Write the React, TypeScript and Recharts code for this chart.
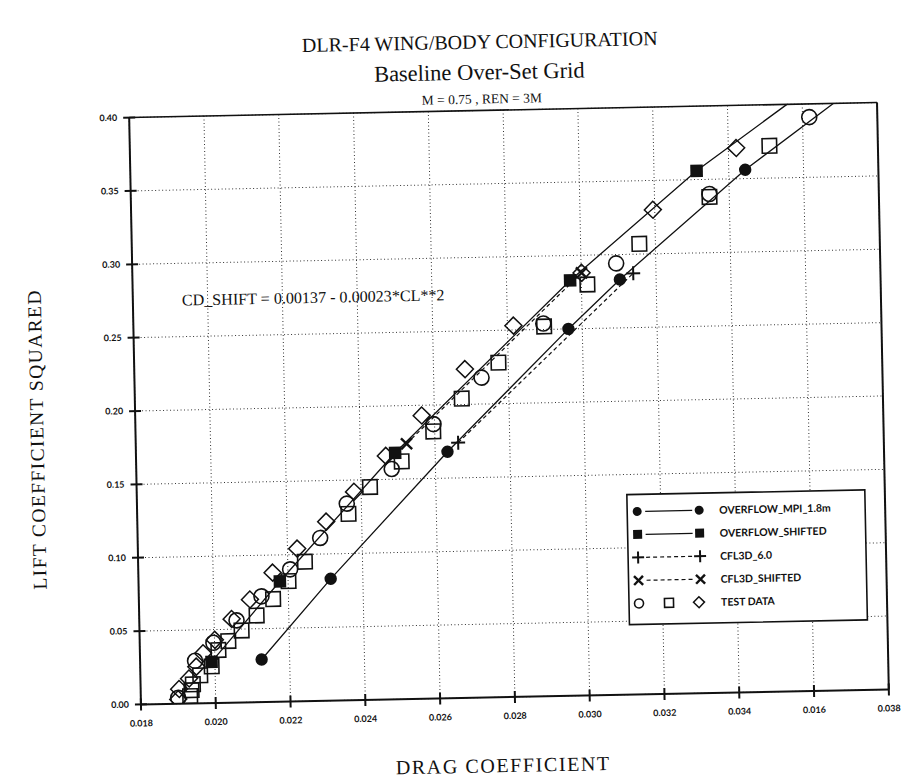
import React from 'react';
import { ScatterChart, Scatter, XAxis, YAxis, CartesianGrid, ReferenceLine } from 'recharts';

// axis ticks (the 0.036 label really reads 0.016 on the original)
const xTicks = [0.018, 0.02, 0.022, 0.024, 0.026, 0.028, 0.03, 0.032, 0.034, 0.036, 0.038];
const xTickLabels = ['0.018', '0.020', '0.022', '0.024', '0.026', '0.028', '0.030', '0.032', '0.034', '0.016', '0.038'];
const yTicks = [0, 0.05, 0.1, 0.15, 0.2, 0.25, 0.3, 0.35, 0.4];
const yTickLabels = ['0.00', '0.05', '0.10', '0.15', '0.20', '0.25', '0.30', '0.35', '0.40'];

// OVERFLOW_MPI_1.8m
const overflowMpi = [
  { cd: 0.02125, cl2: 0.029 }, { cd: 0.02314, cl2: 0.083 }, { cd: 0.02633, cl2: 0.168 },
  { cd: 0.02963, cl2: 0.25 }, { cd: 0.03103, cl2: 0.283 }, { cd: 0.03444, cl2: 0.356 },
];
const overflowMpiLine = [...overflowMpi, { cd: 0.03683, cl2: 0.4 }];

// OVERFLOW_SHIFTED
const overflowShifted = [
  { cd: 0.01991, cl2: 0.028 }, { cd: 0.02178, cl2: 0.082 }, { cd: 0.02493, cl2: 0.168 },
  { cd: 0.0297, cl2: 0.283 }, { cd: 0.03314, cl2: 0.356 },
];
const overflowShiftedLine = [...overflowShifted, { cd: 0.03559, cl2: 0.4 }];

// CFL3D
const cfl3d = [{ cd: 0.02662, cl2: 0.174 }, { cd: 0.03139, cl2: 0.287 }];
const cfl3dShifted = [{ cd: 0.02524, cl2: 0.174 }, { cd: 0.03001, cl2: 0.288 }];

// test data
const testCircles = [
  { cd: 0.019, cl2: 0.004 }, { cd: 0.01947, cl2: 0.029 }, { cd: 0.01997, cl2: 0.041 },
  { cd: 0.0206, cl2: 0.056 }, { cd: 0.02128, cl2: 0.072 }, { cd: 0.02206, cl2: 0.09 },
  { cd: 0.02288, cl2: 0.111 }, { cd: 0.02361, cl2: 0.134 }, { cd: 0.02483, cl2: 0.157 },
  { cd: 0.02597, cl2: 0.187 }, { cd: 0.02728, cl2: 0.218 }, { cd: 0.02896, cl2: 0.254 },
  { cd: 0.03094, cl2: 0.294 }, { cd: 0.03347, cl2: 0.34 }, { cd: 0.03618, cl2: 0.391 },
];
const testSquares = [
  { cd: 0.01932, cl2: 0.005 }, { cd: 0.01936, cl2: 0.009 }, { cd: 0.0194, cl2: 0.013 },
  { cd: 0.0196, cl2: 0.019 }, { cd: 0.01991, cl2: 0.025 }, { cd: 0.0201, cl2: 0.036 },
  { cd: 0.02037, cl2: 0.042 }, { cd: 0.02073, cl2: 0.049 }, { cd: 0.02114, cl2: 0.059 },
  { cd: 0.02159, cl2: 0.07 }, { cd: 0.02201, cl2: 0.082 }, { cd: 0.02246, cl2: 0.095 },
  { cd: 0.02365, cl2: 0.127 }, { cd: 0.02424, cl2: 0.145 }, { cd: 0.0251, cl2: 0.162 },
  { cd: 0.02596, cl2: 0.182 }, { cd: 0.02674, cl2: 0.204 }, { cd: 0.02774, cl2: 0.228 },
  { cd: 0.02898, cl2: 0.252 }, { cd: 0.03016, cl2: 0.28 }, { cd: 0.03157, cl2: 0.307 },
  { cd: 0.03347, cl2: 0.338 }, { cd: 0.0351, cl2: 0.372 },
];
const testDiamonds = [
  { cd: 0.019, cl2: 0.003 }, { cd: 0.01903, cl2: 0.01 }, { cd: 0.0193, cl2: 0.017 },
  { cd: 0.0195, cl2: 0.025 }, { cd: 0.01969, cl2: 0.034 }, { cd: 0.02001, cl2: 0.043 },
  { cd: 0.02047, cl2: 0.057 }, { cd: 0.02097, cl2: 0.07 }, { cd: 0.02159, cl2: 0.088 },
  { cd: 0.02226, cl2: 0.104 }, { cd: 0.02305, cl2: 0.122 }, { cd: 0.02381, cl2: 0.142 },
  { cd: 0.02468, cl2: 0.166 }, { cd: 0.02566, cl2: 0.193 }, { cd: 0.02684, cl2: 0.224 },
  { cd: 0.02816, cl2: 0.253 }, { cd: 0.03001, cl2: 0.288 }, { cd: 0.03195, cl2: 0.33 },
  { cd: 0.03421, cl2: 0.371 },
];

const INK = '#111';
const tickFont = 'Lato, "DejaVu Sans", sans-serif';
const serif = '"Liberation Serif", "DejaVu Serif", serif';

const FilledCircle = ({ cx, cy, r = 6.2 }: any) => <circle cx={cx} cy={cy} r={r} fill={INK} />;
const FilledSquare = ({ cx, cy, s = 12.5 }: any) => <rect x={cx - s / 2} y={cy - s / 2} width={s} height={s} fill={INK} />;
const Plus = ({ cx, cy, h = 7 }: any) => (
  <g stroke={INK} strokeWidth={2}>
    <line x1={cx - h} x2={cx + h} y1={cy} y2={cy} />
    <line x1={cx} x2={cx} y1={cy - h} y2={cy + h} />
  </g>
);
const Cross = ({ cx, cy, h = 5.5 }: any) => (
  <g stroke={INK} strokeWidth={2.4}>
    <line x1={cx - h} x2={cx + h} y1={cy - h} y2={cy + h} />
    <line x1={cx - h} x2={cx + h} y1={cy + h} y2={cy - h} />
  </g>
);
const OpenCircle = ({ cx, cy, r = 7.5 }: any) => <circle cx={cx} cy={cy} r={r} fill="none" stroke={INK} strokeWidth={1.6} />;
const OpenSquare = ({ cx, cy, s = 14.5 }: any) => (
  <rect x={cx - s / 2} y={cy - s / 2} width={s} height={s} fill="none" stroke={INK} strokeWidth={1.6} />
);
const OpenDiamond = ({ cx, cy, h = 8.5 }: any) => (
  <polygon points={`${cx},${cy - h} ${cx + h},${cy} ${cx},${cy + h} ${cx - h},${cy}`} fill="none" stroke={INK} strokeWidth={1.5} />
);
const NoMark = () => <g />;

const XTick = ({ x, y, payload }: any) => {
  const i = xTicks.findIndex(t => Math.abs(t - payload.value) < 1e-9);
  return (
    <g>
      <line x1={x} x2={x} y1={y - 6} y2={y + 6} stroke={INK} strokeWidth={2} />
      <text x={x} y={y + 22} textAnchor="middle" fontSize={9} fontWeight={700} fontFamily={tickFont} fill={INK}>
        {xTickLabels[i]}
      </text>
    </g>
  );
};

const YTick = ({ x, y, payload }: any) => {
  const i = yTicks.findIndex(t => Math.abs(t - payload.value) < 1e-9);
  return (
    <g>
      <line x1={x - 6} x2={x + 6} y1={y} y2={y} stroke={INK} strokeWidth={2} />
      <text x={x - 12} y={y + 3} textAnchor="end" fontSize={9} fontWeight={700} fontFamily={tickFont} fill={INK}>
        {yTickLabels[i]}
      </text>
    </g>
  );
};

const legendRows = ['OVERFLOW_MPI_1.8m', 'OVERFLOW_SHIFTED', 'CFL3D_6.0', 'CFL3D_SHIFTED', 'TEST DATA'];

function Overlay() {
  const rowY = (i: number) => 514 + i * 23;
  return (
    <svg width={904} height={782} style={{ position: 'absolute', left: 0, top: 0, pointerEvents: 'none' }}>
      <g fontFamily={serif} fill={INK} textAnchor="middle">
        <text x={487} y={48} fontSize={20}>DLR-F4 WING/BODY CONFIGURATION</text>
        <text x={486} y={79} fontSize={22.5}>Baseline Over-Set Grid</text>
        <text x={488} y={103} fontSize={13.5}>M = 0.75  ,  REN = 3M</text>
        <text x={496} y={772} fontSize={20} letterSpacing={1.6}>DRAG COEFFICIENT</text>
        <text x={0} y={0} fontSize={19.5} letterSpacing={1.4} transform="translate(43 430) rotate(-90)">
          LIFT COEFFICIENT  SQUARED
        </text>
        <text x={184} y={299} fontSize={16.1} textAnchor="start">CD_SHIFT = 0.00137 - 0.00023*CL**2</text>
      </g>
      <rect x={625} y={497} width={238} height={130} fill="#fff" stroke={INK} strokeWidth={1.6} />
      <FilledCircle cx={635} cy={rowY(0)} r={4.5} />
      <line x1={643} x2={690} y1={rowY(0)} y2={rowY(0)} stroke={INK} strokeWidth={1.3} />
      <FilledCircle cx={697} cy={rowY(0)} r={4.5} />
      <FilledSquare cx={635} cy={rowY(1)} s={9} />
      <line x1={643} x2={690} y1={rowY(1)} y2={rowY(1)} stroke={INK} strokeWidth={1.3} />
      <FilledSquare cx={697} cy={rowY(1)} s={9} />
      <Plus cx={635} cy={rowY(2)} h={6} />
      <line x1={643} x2={690} y1={rowY(2)} y2={rowY(2)} stroke={INK} strokeWidth={1.2} strokeDasharray="4 3" />
      <Plus cx={697} cy={rowY(2)} h={6} />
      <Cross cx={635} cy={rowY(3)} h={4.5} />
      <line x1={643} x2={690} y1={rowY(3)} y2={rowY(3)} stroke={INK} strokeWidth={1.2} strokeDasharray="4 3" />
      <Cross cx={697} cy={rowY(3)} h={4.5} />
      <OpenCircle cx={635} cy={rowY(4)} r={4.5} />
      <OpenSquare cx={665} cy={rowY(4)} s={9} />
      <OpenDiamond cx={695} cy={rowY(4)} h={5.5} />
      <g fontFamily={tickFont} fontWeight={700} fontSize={10.5} fill={INK}>
        {legendRows.map((t, i) => (
          <text key={t} x={717} y={rowY(i) + 4}>{t}</text>
        ))}
      </g>
    </svg>
  );
}

export default function App() {
  return (
    <div
      style={{
        position: 'absolute', left: 0, top: 0, width: 904, height: 782, background: '#fff',
        transform: 'rotate(-1.15deg)', transformOrigin: '509px 404px',
      }}
    >
      <ScatterChart width={904} height={782} margin={{ top: 110, right: 21, bottom: 55, left: 90 }}>
        <CartesianGrid stroke="#333" strokeDasharray="1 2.5" strokeWidth={1} />
        <XAxis
          type="number" dataKey="cd" domain={[0.018, 0.038]} ticks={xTicks} allowDataOverflow
          height={30} tickSize={0} tickMargin={0} tickLine={false}
          axisLine={{ stroke: INK, strokeWidth: 2 }} tick={<XTick />} interval={0}
        />
        <YAxis
          type="number" dataKey="cl2" domain={[0, 0.4]} ticks={yTicks} allowDataOverflow
          width={45} tickSize={0} tickMargin={0} tickLine={false}
          axisLine={{ stroke: INK, strokeWidth: 2 }} tick={<YTick />} interval={0}
        />
        <ReferenceLine y={0.4} stroke={INK} strokeWidth={1.6} />
        <ReferenceLine x={0.038} stroke={INK} strokeWidth={2} />
        <Scatter data={overflowMpiLine} line={{ stroke: INK, strokeWidth: 1.3 }} shape={<NoMark />} isAnimationActive={false} />
        <Scatter data={overflowShiftedLine} line={{ stroke: INK, strokeWidth: 1.3 }} shape={<NoMark />} isAnimationActive={false} />
        <Scatter data={cfl3d} line={{ stroke: INK, strokeWidth: 1.2, strokeDasharray: '4 3' }} shape={<Plus />} isAnimationActive={false} />
        <Scatter data={cfl3dShifted} line={{ stroke: INK, strokeWidth: 1.2, strokeDasharray: '4 3' }} shape={<Cross />} isAnimationActive={false} />
        <Scatter data={testCircles} shape={<OpenCircle />} isAnimationActive={false} />
        <Scatter data={testSquares} shape={<OpenSquare />} isAnimationActive={false} />
        <Scatter data={testDiamonds} shape={<OpenDiamond />} isAnimationActive={false} />
        <Scatter data={overflowMpi} shape={<FilledCircle />} isAnimationActive={false} />
        <Scatter data={overflowShifted} shape={<FilledSquare />} isAnimationActive={false} />
      </ScatterChart>
      <Overlay />
    </div>
  );
}
